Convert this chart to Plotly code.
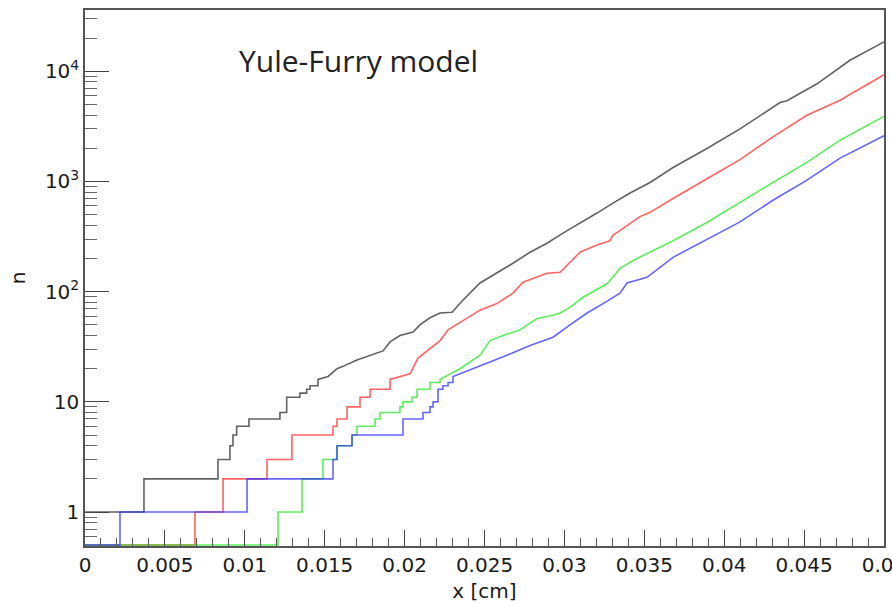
import math
import plotly.graph_objects as go

# ---------------- data ----------------
black_x = [0.0, 0.00369, 0.00832, 0.00907, 0.00926, 0.00949, 0.01026, 0.0122, 0.01262,
           0.01345, 0.01387, 0.01408, 0.01458, 0.01521, 0.01577, 0.01615, 0.01702, 0.01802,
           0.01865, 0.01909, 0.01971, 0.02053, 0.02096, 0.02159, 0.02222, 0.02297, 0.02366,
           0.02472, 0.02578, 0.02678, 0.02785, 0.02891, 0.02991, 0.03098, 0.03204, 0.03304,
           0.03411, 0.03536, 0.0368, 0.03892, 0.04099, 0.04349, 0.04393, 0.04581, 0.04787, 0.05]
black_n = [1, 2, 3, 4, 5, 6, 7, 8, 11,
           12, 13, 14, 16, 17, 20, 21, 24, 27,
           29, 35, 40, 43, 50, 58, 64, 65, 84,
           120, 147, 181, 228, 275, 340, 418, 517, 636,
           785, 980, 1340, 1990, 3000, 5200, 5400, 7700, 12600, 18500]

red_x = [0.0, 0.00688, 0.00864, 0.01139, 0.01295, 0.01552, 0.01577, 0.0164, 0.01721,
         0.01784, 0.01909, 0.02034, 0.02084, 0.0214, 0.02222, 0.02272, 0.02366, 0.02472,
         0.02578, 0.02678, 0.02741, 0.02891, 0.02973, 0.03098, 0.03204, 0.03285, 0.03304,
         0.03411, 0.03473, 0.03536, 0.03648, 0.0368, 0.03892, 0.04099, 0.04305, 0.04518,
         0.04725, 0.05]
red_n = [0, 1, 2, 3, 5, 6, 7, 9, 11,
         13, 16, 18, 25, 29, 36, 45, 55, 68,
         78, 97, 122, 147, 150, 228, 265, 290, 325,
         418, 480, 525, 650, 700, 1060, 1580, 2540, 3990,
         5460, 9300]

green_x = [0.0, 0.01208, 0.01358, 0.01489, 0.01577, 0.01671, 0.01702, 0.01815, 0.01846,
           0.01971, 0.0199, 0.02046, 0.02078, 0.02159, 0.02222, 0.02272, 0.02347, 0.02472,
           0.02534, 0.02616, 0.02722, 0.02829, 0.02929, 0.02973, 0.03035, 0.03116, 0.03267,
           0.03329, 0.03348, 0.03454, 0.03555, 0.0368, 0.03892, 0.04099, 0.04305, 0.04518,
           0.04725, 0.05]
green_n = [0, 1, 2, 3, 4, 5, 6, 7, 8,
           9, 10, 11, 13, 15, 16, 17.5, 20, 26.5,
           36, 40, 45, 57, 61, 64, 72, 89, 118,
           150, 163, 200, 237, 290, 425, 650, 980, 1490,
           2370, 3900]

blue_x = [0.0, 0.00219, 0.01014, 0.01552, 0.01577, 0.01671, 0.0199, 0.02115, 0.02159,
          0.02178, 0.02209, 0.0224, 0.02272, 0.02303, 0.02409, 0.02516, 0.02641, 0.02785,
          0.02929, 0.03035, 0.03142, 0.03242, 0.03348, 0.03392, 0.03517, 0.0368, 0.03892,
          0.04099, 0.04305, 0.04518, 0.04725, 0.05]
blue_n = [0, 1, 2, 3, 4, 5, 7, 8, 9,
          10, 13, 14, 15, 17, 19.5, 22.5, 26.5, 32.5,
          38.6, 50, 64, 78, 97, 120, 135, 205, 300,
          430, 675, 1030, 1630, 2600]

x_tick_vals = [0, 0.005, 0.01, 0.015, 0.02, 0.025, 0.03, 0.035, 0.04, 0.045, 0.05]
x_tick_text = ["0", "0.005", "0.01", "0.015", "0.02", "0.025", "0.03", "0.035", "0.04", "0.045", "0.05"]
y_tick_vals = [1, 10, 100, 1000, 10000]
y_tick_text = ["1", "10", "10<sup>2</sup>", "10<sup>3</sup>", "10<sup>4</sup>"]

# ---------------- styling ----------------
Y_MIN, Y_MAX = 0.492, 36000.0
STEP_BELOW = 16          # draw as histogram steps below this count
FONT = "DejaVu Sans"

series = [
    ("black", black_x, black_n, "rgba(70,70,70,0.85)"),
    ("red", red_x, red_n, "rgba(255,60,60,0.8)"),
    ("green", green_x, green_n, "rgba(40,230,40,0.75)"),
    ("blue", blue_x, blue_n, "rgba(50,50,255,0.75)"),
]


def path(xs, ns):
    ns = [n if n > 0 else Y_MIN * 1.02 for n in ns]
    px, py = [xs[0]], [ns[0]]
    for i in range(1, len(xs)):
        if ns[i - 1] < STEP_BELOW:
            px.append(xs[i]); py.append(ns[i - 1])
        px.append(xs[i]); py.append(ns[i])
    return px, py


fig = go.Figure()
for name, xs, ns, col in series:
    px, py = path(xs, ns)
    fig.add_trace(go.Scatter(x=px, y=py, mode="lines", name=name, cliponaxis=False,
                             line=dict(color=col, width=1.6), showlegend=False))

minor_y = [m * 10 ** k for k in range(-1, 5) for m in range(2, 10)
           if Y_MIN <= m * 10 ** k <= Y_MAX]

axis_common = dict(showline=True, linecolor="#555", linewidth=1.5, mirror=True,
                   showgrid=False, zeroline=False, ticks="inside", tickcolor="#444",
                   tickwidth=1.2, tickfont=dict(family=FONT, size=20, color="#1a1a1a"),
                   automargin=False)

fig.update_xaxes(**axis_common, range=[0, 0.05], tickmode="array",
                 tickvals=x_tick_vals, ticktext=x_tick_text, ticklen=16,
                 ticklabeloverflow="allow",
                 minor=dict(ticks="inside", ticklen=8, dtick=0.001, tick0=0,
                            tickcolor="#555", tickwidth=1.2, showgrid=False),
                 title=dict(text="x [cm]", font=dict(family=FONT, size=20, color="#1a1a1a"),
                            standoff=10))
fig.update_yaxes(**axis_common, type="log",
                 range=[math.log10(Y_MIN), math.log10(Y_MAX)], tickmode="array",
                 tickvals=y_tick_vals, ticktext=y_tick_text, ticklen=24,
                 minor=dict(ticks="inside", ticklen=12, tickmode="array", tickvals=minor_y,
                            tickcolor="#666", tickwidth=1.2, showgrid=False),
                 title=dict(text="n", font=dict(family=FONT, size=20, color="#1a1a1a"),
                            standoff=14))

fig.add_annotation(text="Yule-Furry model", xref="paper", yref="paper",
                   x=0.19, y=0.9067, xanchor="left", yanchor="middle", showarrow=False,
                   font=dict(family="Open Sans", size=30, color="#222"))

fig.update_layout(width=892, height=603, margin=dict(l=85, r=8, t=10, b=57),
                  paper_bgcolor="white", plot_bgcolor="white")

fig.write_html("out.html")
